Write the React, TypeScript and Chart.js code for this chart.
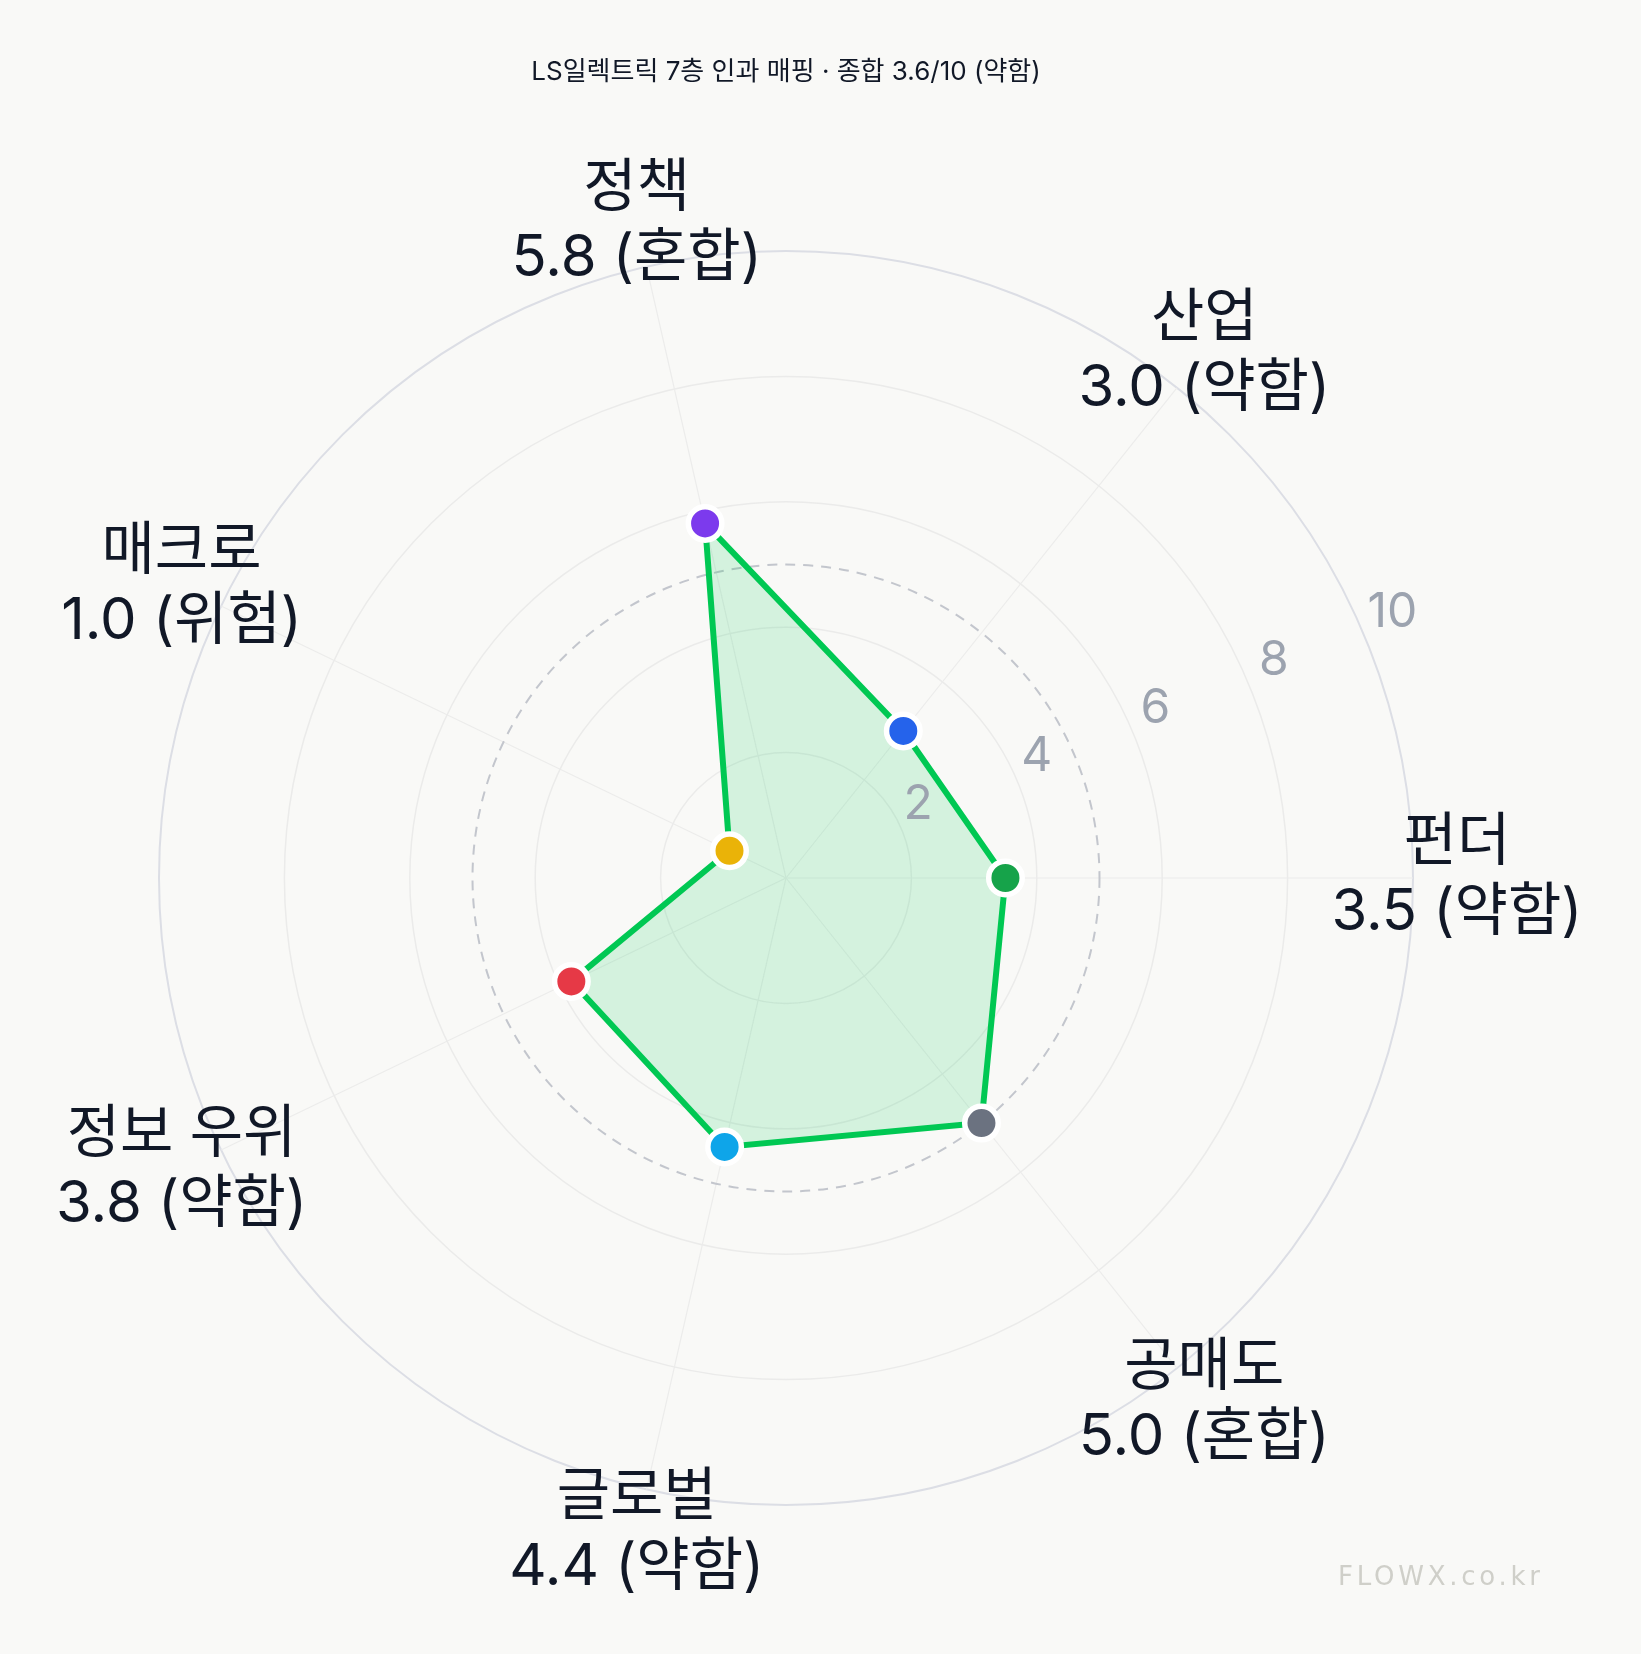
import React, { useEffect, useRef } from 'react';
import { Chart, registerables } from 'chart.js';

Chart.register(...registerables);

const TITLE = 'LS일렉트릭 7층 인과 매핑 · 종합 3.6/10 (약함)';
const WATERMARK = 'FLOWX.co.kr';
// clockwise from the right-hand axis
const categories = ['펀더', '공매도', '글로벌', '정보 우위', '매크로', '정책', '산업'];
const scores = [3.5, 5.0, 4.4, 3.8, 1.0, 5.8, 3.0];
const verdicts = ['약함', '혼합', '약함', '약함', '위험', '혼합', '약함'];
const pointColors = ['#16a34a', '#6b7280', '#0ea5e9', '#e63946', '#eab308', '#7c3aed', '#2563eb'];
const tickValues = [2, 4, 6, 8, 10];
const referenceValue = 5;
const labelValue = 10.7;

const FONT = "Inter, 'Noto Sans CJK KR', sans-serif";

const overlayPlugin = {
  id: 'overlay',
  beforeDatasetsDraw(chart: any) {
    const r = chart.scales.r;
    const ctx = chart.ctx;
    ctx.save();
    ctx.setLineDash([10, 8]);
    ctx.strokeStyle = '#c3c6cd';
    ctx.lineWidth = 2;
    ctx.beginPath();
    ctx.arc(r.xCenter, r.yCenter, r.getDistanceFromCenterForValue(referenceValue), 0, Math.PI * 2);
    ctx.stroke();
    ctx.restore();
  },
  afterDraw(chart: any) {
    const r = chart.scales.r;
    const ctx = chart.ctx;
    ctx.save();
    // tick labels
    ctx.fillStyle = '#9ca3af';
    ctx.font = `400 48px ${FONT}`;
    ctx.textAlign = 'center';
    ctx.textBaseline = 'middle';
    const a = (-22 * Math.PI) / 180;
    tickValues.forEach((v) => {
      const d = r.getDistanceFromCenterForValue(v) * 1.02;
      const x = r.xCenter + 13.5 + d * Math.cos(a);
      const y = r.yCenter - 25.7 + d * Math.sin(a);
      ctx.fillText(String(v), x, y);
    });
    // point labels
    ctx.fillStyle = '#111827';
    ctx.font = `400 58px ${FONT}`;
    categories.forEach((c, i) => {
      const p = r.getPointPosition(i, r.getDistanceFromCenterForValue(labelValue));
      ctx.fillText(c, p.x, p.y - 35);
      ctx.fillText(`${scores[i].toFixed(1)} (${verdicts[i]})`, p.x, p.y + 35);
    });
    // title
    ctx.font = `400 26px ${FONT}`;
    ctx.fillText(TITLE, r.xCenter, 72);
    // watermark
    ctx.fillStyle = '#cfcfc9';
    ctx.font = `400 26px 'DejaVu Sans', sans-serif`;
    ctx.textAlign = 'left';
    const w = ctx.measureText(WATERMARK).width;
    const spacing = Math.max(0, (202 - w) / (WATERMARK.length - 1));
    try {
      (ctx as any).letterSpacing = `${spacing}px`;
    } catch (e) {}
    ctx.fillText(WATERMARK, 1338, 1578);
    ctx.restore();
  },
};

export default function App() {
  const ref = useRef<HTMLCanvasElement | null>(null);
  useEffect(() => {
    if (!ref.current) return;
    const chart = new Chart(ref.current, {
      type: 'radar',
      data: {
        labels: categories,
        datasets: [
          {
            data: scores,
            borderColor: '#00c853',
            backgroundColor: 'rgba(0,200,83,0.15)',
            borderWidth: 6,
            fill: true,
            pointBackgroundColor: pointColors,
            pointBorderColor: '#ffffff',
            pointBorderWidth: 5.5,
            pointRadius: 16.75,
            pointHoverRadius: 16.75,
          },
        ],
      },
      options: {
        responsive: false,
        animation: false,
        layout: { padding: { left: 159, right: 228, top: 251, bottom: 149 } },
        plugins: { legend: { display: false }, tooltip: { enabled: false } },
        scales: {
          r: {
            min: 0,
            max: 10,
            startAngle: 90,
            ticks: { display: false, stepSize: 2 },
            pointLabels: { display: false },
            grid: {
              circular: true,
              color: (c: any) => (c.tick && c.tick.value === 10 ? '#dcdee5' : '#ebebea'),
              lineWidth: (c: any) => (c.tick && c.tick.value === 10 ? 2 : 1.5),
            },
            angleLines: { color: '#ececeb', lineWidth: 1.2 },
          },
        },
      },
      plugins: [overlayPlugin],
    } as any);
    return () => chart.destroy();
  }, []);
  return (
    <div style={{ position: 'fixed', left: 0, top: 0, width: 1641, height: 1654, background: '#f9f9f7' }}>
      <canvas ref={ref} width={1641} height={1654} style={{ display: 'block', width: 1641, height: 1654 }} />
    </div>
  );
}
